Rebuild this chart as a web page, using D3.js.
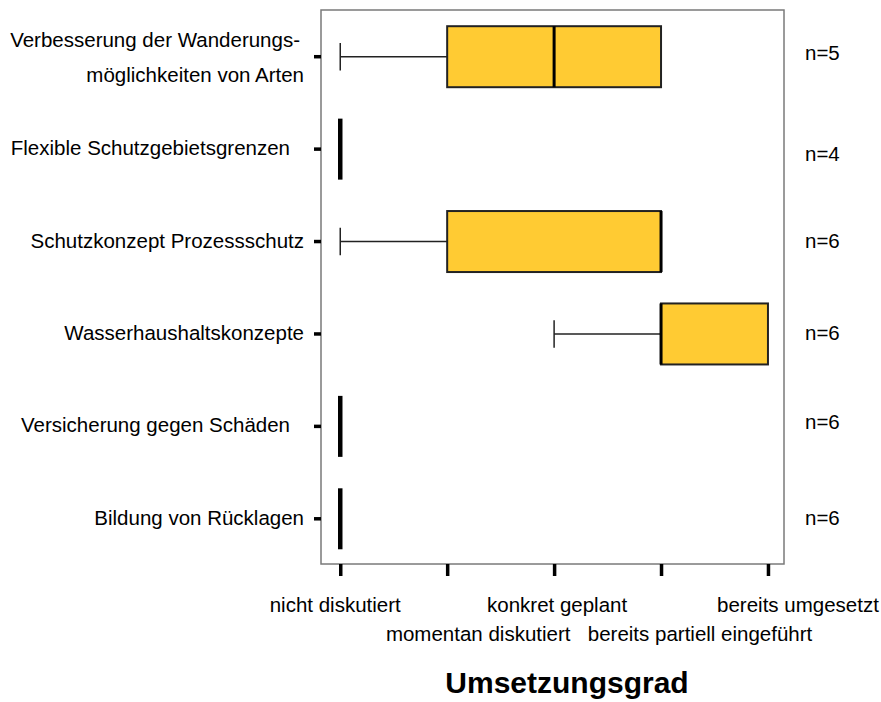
<!DOCTYPE html>
<html>
<head>
<meta charset="utf-8">
<script src="https://cdn.jsdelivr.net/npm/d3@7"></script>
<style>
  html, body { margin: 0; padding: 0; background: #fff; }
  svg { display: block; font-family: "Liberation Sans", Arial, sans-serif; }
</style>
</head>
<body>
<svg id="chart" width="881" height="702"></svg>
<script>
// Measures, each as a line array (label lines shown on the y axis)
const categories = [
  ["Verbesserung der Wanderungs-", "möglichkeiten von Arten"],
  ["Flexible Schutzgebietsgrenzen"],
  ["Schutzkonzept Prozessschutz"],
  ["Wasserhaushaltskonzepte"],
  ["Versicherung gegen Schäden"],
  ["Bildung von Rücklagen"]
];
// Five-number summaries on the 0–4 scale: min, q1, median, q3, max
const mins    = [0, 0, 0, 2, 0, 0];
const q1s     = [1, 0, 1, 3, 0, 0];
const medians = [2, 0, 3, 3, 0, 0];
const q3s     = [3, 0, 3, 4, 0, 0];
const maxs    = [3, 0, 3, 4, 0, 0];
const counts  = [5, 4, 6, 6, 6, 6];
// Ordinal levels of the x axis
const tickLabels = ["nicht diskutiert", "momentan diskutiert", "konkret geplant",
                    "bereits partiell eingeführt", "bereits umgesetzt"];
const axisTitle = "Umsetzungsgrad";

const svg = d3.select("#chart");
const frame = { left: 321, right: 784, top: 10, bottom: 564 };
const fs = 20.5;

const x = d3.scaleLinear().domain([-0.18, 4.15]).range([frame.left, frame.right]);
const y = d3.scaleBand().domain(d3.range(categories.length))
  .range([frame.top + 0.5, frame.bottom + 1]).paddingInner(0.34).paddingOuter(0.17);

const rows = categories.map((c, i) => ({
  i, label: c, min: mins[i], q1: q1s[i], med: medians[i], q3: q3s[i], max: maxs[i], n: counts[i]
}));

// Plot frame
svg.append("rect")
  .attr("x", frame.left).attr("y", frame.top)
  .attr("width", frame.right - frame.left).attr("height", frame.bottom - frame.top)
  .attr("fill", "none").attr("stroke", "#7a7a7a").attr("stroke-width", 1.5);

// X axis ticks below the frame
const xAxis = d3.axisBottom(x).tickValues(d3.range(5)).tickSize(12).tickFormat("");
const gx = svg.append("g").attr("transform", `translate(0,${frame.bottom})`).call(xAxis);
gx.select(".domain").remove();
gx.selectAll(".tick line").attr("stroke", "#000").attr("stroke-width", 3.5);

// X tick labels, staggered in two rows
const labelOffsets = [-5, 31, 3, 39, 30];
svg.append("g").selectAll("text").data(tickLabels).join("text")
  .attr("x", (d, i) => x(i) + labelOffsets[i])
  .attr("y", (d, i) => i % 2 === 0 ? 612 : 641)
  .attr("text-anchor", "middle")
  .attr("font-size", fs)
  .attr("fill", "#000")
  .text(d => d);

svg.append("text")
  .attr("x", 567).attr("y", 693)
  .attr("text-anchor", "middle")
  .attr("font-size", 30).attr("font-weight", "bold")
  .attr("fill", "#000")
  .text(axisTitle);

// Y axis ticks left of the frame
const yc = i => y(i) + y.bandwidth() / 2;
svg.append("g").selectAll("line").data(rows).join("line")
  .attr("x1", frame.left - 7).attr("x2", frame.left)
  .attr("y1", d => yc(d.i)).attr("y2", d => yc(d.i))
  .attr("stroke", "#000").attr("stroke-width", 3.5);

// Category labels
const labelRight = [300, 290, 304, 304, 290, 304];
const lab = svg.append("g").selectAll("text").data(rows).join("text")
  .attr("text-anchor", "end")
  .attr("font-size", fs)
  .attr("fill", "#000");
lab.each(function (d) {
  const t = d3.select(this);
  const lines = d.label;
  if (lines.length === 2) {
    t.append("tspan").attr("x", 300).attr("y", yc(d.i) - 10).text(lines[0]);
    t.append("tspan").attr("x", 304).attr("y", yc(d.i) + 25).text(lines[1]);
  } else {
    t.append("tspan").attr("x", labelRight[d.i]).attr("y", yc(d.i) + 6).text(lines[0]);
  }
});

// n counts on the right
const nOffsets = [3, 12, 6, 6, 3, 6];
svg.append("g").selectAll("text").data(rows).join("text")
  .attr("x", 805)
  .attr("y", d => yc(d.i) + nOffsets[d.i])
  .attr("font-size", fs)
  .attr("fill", "#000")
  .text(d => "n=" + d.n);

// Boxplots
const g = svg.append("g");
rows.forEach(d => {
  const cy = yc(d.i);
  const top = y(d.i), h = y.bandwidth();
  const cap = h * 0.45;
  if (d.min === d.max) {
    // all answers identical: collapsed box shown as a heavy line
    g.append("line")
      .attr("x1", x(d.med)).attr("x2", x(d.med))
      .attr("y1", top).attr("y2", top + h)
      .attr("stroke", "#000").attr("stroke-width", 4.5);
    return;
  }
  // lower whisker
  if (d.min < d.q1) {
    g.append("line").attr("x1", x(d.min)).attr("x2", x(d.q1))
      .attr("y1", cy).attr("y2", cy).attr("stroke", "#222").attr("stroke-width", 1.5);
    g.append("line").attr("x1", x(d.min)).attr("x2", x(d.min))
      .attr("y1", cy - cap / 2).attr("y2", cy + cap / 2)
      .attr("stroke", "#222").attr("stroke-width", 1.5);
  }
  // upper whisker
  if (d.max > d.q3) {
    g.append("line").attr("x1", x(d.q3)).attr("x2", x(d.max))
      .attr("y1", cy).attr("y2", cy).attr("stroke", "#222").attr("stroke-width", 1.5);
    g.append("line").attr("x1", x(d.max)).attr("x2", x(d.max))
      .attr("y1", cy - cap / 2).attr("y2", cy + cap / 2)
      .attr("stroke", "#222").attr("stroke-width", 1.5);
  }
  g.append("rect")
    .attr("x", x(d.q1)).attr("y", top)
    .attr("width", x(d.q3) - x(d.q1)).attr("height", h)
    .attr("fill", "#ffcb33").attr("stroke", "#222").attr("stroke-width", 2);
  g.append("line")
    .attr("x1", x(d.med)).attr("x2", x(d.med))
    .attr("y1", top).attr("y2", top + h)
    .attr("stroke", "#000").attr("stroke-width", 3);
});
</script>
</body>
</html>
